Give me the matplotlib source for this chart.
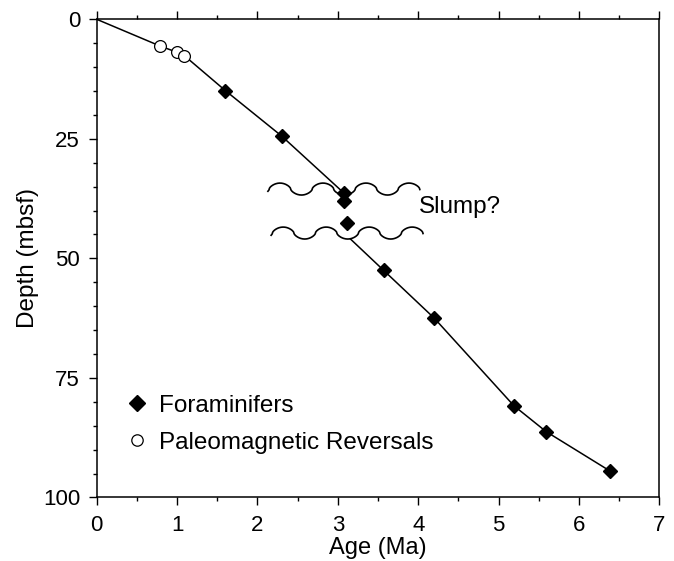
import numpy as np
import matplotlib
matplotlib.use('Agg')
import matplotlib.pyplot as plt
from matplotlib.ticker import MultipleLocator
from matplotlib.lines import Line2D

plt.rcParams['font.family'] = ['Liberation Sans', 'DejaVu Sans']

# data (age in Ma, depth in mbsf)
paleomag_age = [0.79, 1.0, 1.09]
paleomag_depth = [5.6, 6.9, 7.6]

foram_age = [1.60, 2.30, 3.08, 3.08, 3.12, 3.57, 4.20, 5.19, 5.59, 6.39]
foram_depth = [14.9, 24.4, 36.4, 38.1, 42.5, 52.5, 62.5, 80.8, 86.2, 94.5]

# age model line: upper part (above slump) and lower part (below slump)
upper_age = [0.0] + paleomag_age + foram_age[:3]
upper_depth = [0.0] + paleomag_depth + foram_depth[:3]
lower_age = foram_age[5:]
lower_depth = foram_depth[5:]

# slump symbol (wavy lines)
wave_start = [2.13, 2.17]
wave_end = [4.02, 4.06]
wave_depth = [35.5, 44.7]
wave_amp = 1.25
wave_period = 0.535

fig = plt.figure(figsize=(6.74, 5.61), dpi=100)
ax = fig.add_axes([0.1435, 0.1132, 0.8347, 0.8524])

ax.plot(upper_age, upper_depth, color='black', lw=1.1, zorder=2)

# lower line is extended up until it meets the lower wavy line
d0 = wave_depth[1] + wave_amp
slope = (lower_age[1] - lower_age[0]) / (lower_depth[1] - lower_depth[0])
a0 = lower_age[0] + (d0 - lower_depth[0]) * slope
ax.plot([a0] + lower_age, [d0] + lower_depth, color='black', lw=1.1, zorder=2)

for xs, xe, dc in zip(wave_start, wave_end, wave_depth):
    xx = np.linspace(xs, xe, 400)
    xpeak = xs + 0.15
    c = np.cos(2 * np.pi * (xx - xpeak) / wave_period)
    yy = dc - wave_amp * np.sign(c) * np.abs(c) ** 0.6
    ax.plot(xx, yy, color='black', lw=1.2, zorder=2)

ax.plot(foram_age, foram_depth, 'D', color='black', ms=7.4, zorder=3)
ax.plot(paleomag_age, paleomag_depth, 'o', mfc='white', mec='black', mew=0.9,
        ms=8.5, zorder=3)

ax.text(4.01, 39.3, 'Slump?', fontsize=17.5, va='center', ha='left')

ax.set_xlim(0, 7)
ax.set_ylim(100, 0)
ax.xaxis.set_major_locator(MultipleLocator(1))
ax.xaxis.set_minor_locator(MultipleLocator(0.5))
ax.yaxis.set_major_locator(MultipleLocator(25))
ax.yaxis.set_minor_locator(MultipleLocator(5))
ax.tick_params(which='both', direction='out', top=True, right=False,
               width=1.0, labelsize=16)
ax.tick_params(which='major', length=5.5)
ax.tick_params(which='minor', length=3)
ax.tick_params(axis='x', pad=7)
ax.tick_params(axis='y', pad=6.5)
for s in ax.spines.values():
    s.set_linewidth(1.1)

ax.set_xlabel('Age (Ma)', fontsize=17, labelpad=0.5)
ax.set_ylabel('Depth (mbsf)', fontsize=17.5, labelpad=3)

handles = [
    Line2D([], [], marker='D', ls='none', color='black', ms=7.8),
    Line2D([], [], marker='o', ls='none', mfc='white', mec='black', mew=0.9, ms=8.2),
]
ax.legend(handles, ['Foraminifers', 'Paleomagnetic Reversals'], loc='upper left',
          bbox_to_anchor=(0.055, 0.2145), frameon=False, fontsize=17.5,
          handlelength=0.8, handletextpad=0.5, labelspacing=0.6,
          borderpad=0, borderaxespad=0)

fig.savefig('out.png', dpi=100)
